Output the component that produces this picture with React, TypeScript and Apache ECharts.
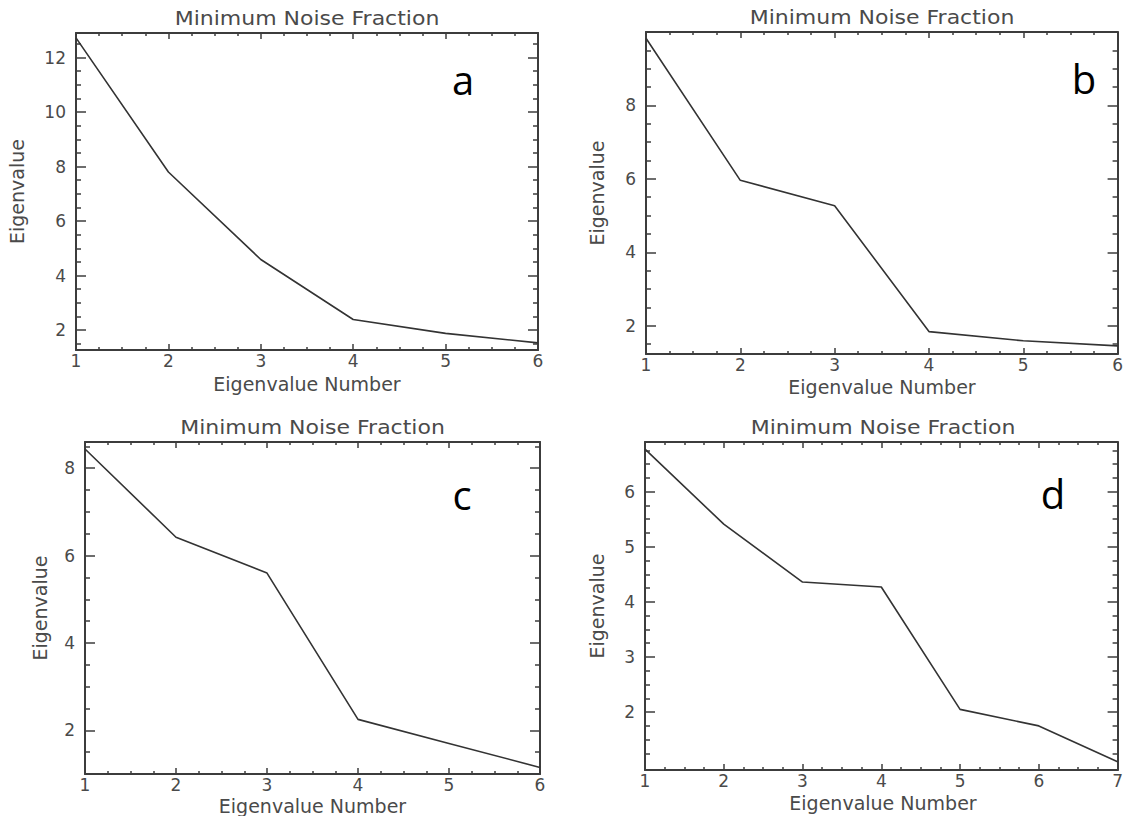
import React, { useEffect, useRef } from "react";
import * as echarts from "echarts";

const TITLE = "Minimum Noise Fraction";
const X_NAME = "Eigenvalue Number";
const Y_NAME = "Eigenvalue";

// x values (eigenvalue number)
const xSix = [1, 2, 3, 4, 5, 6];
const xSeven = [1, 2, 3, 4, 5, 6, 7];

// eigenvalues
const valsA = [12.72, 7.8, 4.59, 2.39, 1.88, 1.53];
const valsB = [9.83, 5.96, 5.27, 1.84, 1.59, 1.45];
const valsC = [8.44, 6.42, 5.6, 2.25, 1.7, 1.15];
const valsD = [6.77, 5.41, 4.36, 4.27, 2.05, 1.75, 1.1];

// y tick labels (major) and minor tick values
const yMajorA = [2, 4, 6, 8, 10, 12];
const yMinorA = [1.5, 2.5, 3, 3.5, 4.5, 5, 5.5, 6.5, 7, 7.5, 8.5, 9, 9.5, 10.5, 11, 11.5, 12.5];
const yMajorB = [2, 4, 6, 8];
const yMinorB = [1.5, 2.5, 3, 3.5, 4.5, 5, 5.5, 6.5, 7, 7.5, 8.5, 9, 9.5];
const yMajorC = [2, 4, 6, 8];
const yMinorC = [1.5, 2.5, 3, 3.5, 4.5, 5, 5.5, 6.5, 7, 7.5, 8.5];
const yMajorD = [2, 3, 4, 5, 6];
const yMinorD = [1.25, 1.5, 1.75, 2.25, 2.5, 2.75, 3.25, 3.5, 3.75, 4.25, 4.5, 4.75, 5.25, 5.5, 5.75, 6.25, 6.5, 6.75];

// y axis ranges
const yRangeA = [1.27, 12.9];
const yRangeB = [1.23, 10.0];
const yRangeC = [1.0, 8.6];
const yRangeD = [0.95, 6.9];

const panelLetters = ["a", "b", "c", "d"];

const panels = [
  { x: xSix, y: valsA, yRange: yRangeA, yMajor: yMajorA, yMinor: yMinorA },
  { x: xSix, y: valsB, yRange: yRangeB, yMajor: yMajorB, yMinor: yMinorB },
  { x: xSix, y: valsC, yRange: yRangeC, yMajor: yMajorC, yMinor: yMinorC },
  { x: xSeven, y: valsD, yRange: yRangeD, yMajor: yMajorD, yMinor: yMinorD },
];

const layouts = [
  { left: 76, top: 33, width: 462, height: 317, letterX: 463, letterY: 79, titleY: 18, xNameY: 384, yNameX: 17 },
  { left: 646, top: 32, width: 472, height: 322, letterX: 1084, letterY: 78, titleY: 17, xNameY: 387, yNameX: 597 },
  { left: 85, top: 442, width: 455, height: 332, letterX: 462, letterY: 494, titleY: 427, xNameY: 806, yNameX: 40 },
  { left: 645, top: 442, width: 476, height: 328, letterX: 1053, letterY: 493, titleY: 427, xNameY: 803, yNameX: 597 },
];

const FONT = "DejaVu Sans";
const TEXT_COLOR = "#4a4a4a";
const AXIS_COLOR = "#3c3c3c";

function buildOption() {
  const grid: any[] = [];
  const xAxis: any[] = [];
  const yAxis: any[] = [];
  const series: any[] = [];
  const graphic: any[] = [];

  panels.forEach((p, i) => {
    const L = layouts[i];
    grid.push({ left: L.left, top: L.top, width: L.width, height: L.height, show: false });
    const xMax = p.x[p.x.length - 1];
    const xCommon = {
      gridIndex: i,
      type: "value",
      min: 1,
      max: xMax,
      interval: 1,
      splitLine: { show: false },
      axisLine: { show: true, onZero: false, lineStyle: { color: AXIS_COLOR, width: 2 } },
      axisTick: { show: true, inside: true, length: 6, lineStyle: { color: AXIS_COLOR, width: 1.5 } },
      minorTick: { show: true, splitNumber: 4, length: 3, lineStyle: { color: AXIS_COLOR, width: 1.5 } },
      minorSplitLine: { show: false },
    };
    xAxis.push({
      ...xCommon,
      position: "bottom",
      axisLabel: {
        show: true,
        showMinLabel: true,
        showMaxLabel: true,
        fontFamily: FONT,
        fontSize: 17,
        lineHeight: 16,
        color: TEXT_COLOR,
        margin: 3,
      },
    });
    xAxis.push({ ...xCommon, position: "top", axisLabel: { show: false } });

    const yCommon = {
      gridIndex: i,
      type: "value",
      min: p.yRange[0],
      max: p.yRange[1],
      splitLine: { show: false },
    };
    const yTickStyle = { color: AXIS_COLOR, width: 1.5 };
    yAxis.push({
      ...yCommon,
      position: "left",
      axisLine: { show: true, onZero: false, lineStyle: { color: AXIS_COLOR, width: 2 } },
      axisTick: { show: true, inside: true, length: 10, customValues: p.yMajor, lineStyle: yTickStyle },
      axisLabel: {
        show: true,
        customValues: p.yMajor,
        fontFamily: FONT,
        fontSize: 17,
        color: TEXT_COLOR,
        margin: 10,
      },
    });
    yAxis.push({
      ...yCommon,
      position: "left",
      axisLine: { show: false },
      axisTick: { show: true, inside: true, length: 5, customValues: p.yMinor, lineStyle: yTickStyle },
      axisLabel: { show: false },
    });
    yAxis.push({
      ...yCommon,
      position: "right",
      axisLine: { show: true, onZero: false, lineStyle: { color: AXIS_COLOR, width: 2 } },
      axisTick: { show: true, inside: true, length: 10, customValues: p.yMajor, lineStyle: yTickStyle },
      axisLabel: { show: false },
    });
    yAxis.push({
      ...yCommon,
      position: "right",
      axisLine: { show: false },
      axisTick: { show: true, inside: true, length: 5, customValues: p.yMinor, lineStyle: yTickStyle },
      axisLabel: { show: false },
    });

    series.push({
      type: "line",
      xAxisIndex: i * 2,
      yAxisIndex: i * 4,
      data: p.x.map((xv, k) => [xv, p.y[k]]),
      symbol: "none",
      lineStyle: { color: "#333333", width: 1.6 },
      silent: true,
    });

    const cx = L.left + L.width / 2;
    const cy = L.top + L.height / 2;
    graphic.push({
      type: "text",
      x: cx,
      y: L.titleY,
      scaleX: 1.1,
      style: {
        text: TITLE,
        fontFamily: FONT,
        fontSize: 20,
        fill: TEXT_COLOR,
        align: "center",
        verticalAlign: "middle",
      },
    });
    graphic.push({
      type: "text",
      x: cx,
      y: L.xNameY,
      style: {
        text: X_NAME,
        fontFamily: FONT,
        fontSize: 19,
        lineHeight: 18,
        fill: TEXT_COLOR,
        align: "center",
        verticalAlign: "middle",
      },
    });
    graphic.push({
      type: "text",
      x: L.yNameX,
      y: cy,
      rotation: Math.PI / 2,
      style: {
        text: Y_NAME,
        fontFamily: FONT,
        fontSize: 19,
        fill: TEXT_COLOR,
        align: "center",
        verticalAlign: "middle",
      },
    });
    graphic.push({
      type: "text",
      x: L.letterX,
      y: L.letterY,
      style: {
        text: panelLetters[i],
        fontFamily: "Open Sans",
        fontSize: 40,
        fill: "#000000",
        align: "center",
        verticalAlign: "middle",
      },
    });
  });

  return {
    animation: false,
    backgroundColor: "#ffffff",
    grid,
    xAxis,
    yAxis,
    series,
    graphic,
  };
}

export default function App() {
  const ref = useRef<HTMLDivElement>(null);
  useEffect(() => {
    if (!ref.current) return;
    const chart = echarts.init(ref.current, undefined, { renderer: "svg" });
    chart.setOption(buildOption() as any);
    return () => {
      chart.dispose();
    };
  }, []);
  return (
    <div
      ref={ref}
      style={{ position: "fixed", left: 0, top: 0, width: 1126, height: 816, background: "#fff" }}
    />
  );
}
